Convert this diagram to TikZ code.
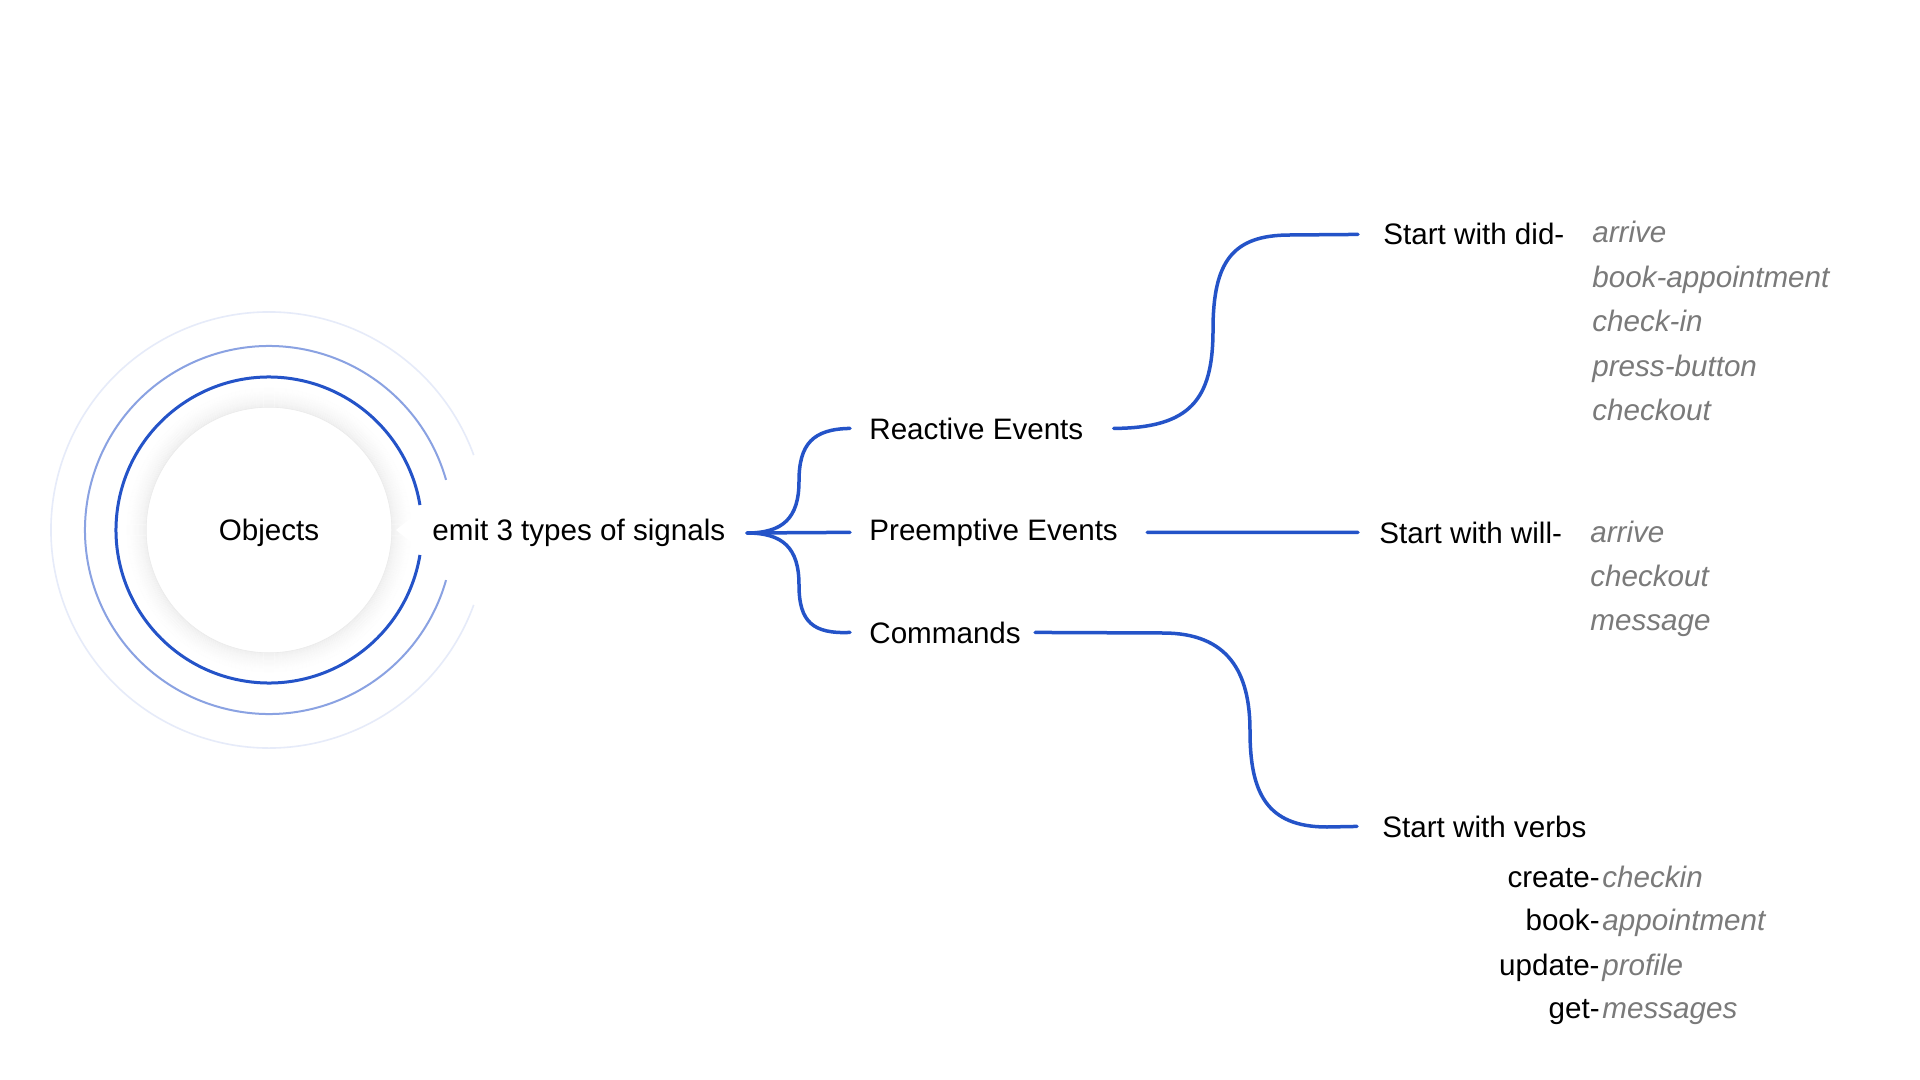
\documentclass[tikz,border=0pt]{standalone}
\usepackage{fontspec}
\setmainfont{Liberation Sans}
\definecolor{lineblue}{RGB}{36,83,200}
\definecolor{midblue}{RGB}{138,162,226}
\definecolor{faintblue}{RGB}{230,235,249}
\definecolor{itgray}{RGB}{122,122,122}
\begin{document}
\begin{tikzpicture}[x=0.5pt,y=-0.5pt,
  lbl/.style={font=\fontsize{14.8pt}{18pt}\selectfont, inner sep=0pt, anchor=base west, text=black},
  itl/.style={lbl, font=\fontsize{14.8pt}{18pt}\selectfont\itshape, text=itgray},
  conn/.style={draw=lineblue, line width=1.75pt, line cap=round},
]
\fill[white] (0,0) rectangle (1920,1080);
\useasboundingbox (0,0) rectangle (1920,1080);

% --- central object with soft shadow ---
\coordinate (c) at (269,530);
\foreach \i in {0,...,24} {
  \pgfmathsetmacro\op{0.045*(1-\i/25)*(1-\i/25)}
  \draw[black, opacity=\op, line width=0.6pt] (c) circle[radius=123+\i];
}
\fill[white] (c) circle[radius=122.5];
\draw[black!8, line width=0.3pt] (c) circle[radius=122.8];
\fill[white] (396,530) -- (428,504) -- (428,556) -- cycle;

\draw[faintblue, line width=0.8pt] (c) ++(20.1:218) arc[start angle=20.1, end angle=339.9, radius=218];
\draw[midblue, line width=1pt] (c) ++(15.8:184) arc[start angle=15.8, end angle=344.2, radius=184];
\draw[lineblue, line width=1.5pt] (c) ++(9.4:153) arc[start angle=9.4, end angle=350.6, radius=153];

\node[lbl, anchor=base] (obj) at (269,540) {Objects};
\node[lbl] (emit) at (432,540) {emit 3 types of signals};

% --- second level ---
\coordinate (root) at (747,533);
\node[lbl] (re) at (869,439) {Reactive Events};
\node[lbl] (pe) at (869,540) {Preemptive Events};
\node[lbl] (cmd) at (869,643) {Commands};

\draw[conn] (root) .. controls (783,533) and (799,518) .. (799,481)
  .. controls (799,444) and (813,429) .. ([xshift=-9.5pt]re.west);
\draw[conn] (root) -- ([xshift=-9.5pt]pe.west);
\draw[conn] (root) .. controls (783,533) and (799,548) .. (799,585)
  .. controls (799,622) and (813,634) .. ([xshift=-9.5pt]cmd.west);

% --- third level ---
\node[lbl] (did) at (1383,245) {Start with did-};
\node[lbl] (will) at (1379,543) {Start with will-};
\node[lbl] (verbs) at (1382,837) {Start with verbs};

\draw[conn] ([xshift=15pt]re.east) .. controls (1190,428) and (1213,400) .. (1213,330)
  .. controls (1213,262) and (1232,235) .. (1290,235) -- ([xshift=-12.5pt]did.west);
\draw[conn] ([xshift=14.5pt]pe.east) -- ([xshift=-10.5pt]will.west);
\draw[conn] ([xshift=7pt]cmd.east) -- (1163,633) .. controls (1228,633) and (1250,672) .. (1250,731)
  .. controls (1250,792) and (1266,827) .. (1327,827) -- ([xshift=-12.5pt]verbs.west);

% --- examples ---
\node[itl] (d1) at (1592,243) {arrive};
\node[itl] (d2) at (1592,287.5) {book-appointment};
\node[itl] (d3) at (1592,332) {check-in};
\node[itl] (d4) at (1592,376) {press-button};
\node[itl] (d5) at (1592,420) {checkout};

\node[itl] (w1) at (1590,542) {arrive};
\node[itl] (w2) at (1590,586) {checkout};
\node[itl] (w3) at (1590,630) {message};

\node[lbl, anchor=base east] (v1a) at (1600,887) {create-};
\node[itl] (v1b) at (1602,887) {checkin};
\node[lbl, anchor=base east] (v2a) at (1600,930) {book-};
\node[itl] (v2b) at (1602,930) {appointment};
\node[lbl, anchor=base east] (v3a) at (1600,975) {update-};
\node[itl] (v3b) at (1602,975) {profile};
\node[lbl, anchor=base east] (v4a) at (1600,1018) {get-};
\node[itl] (v4b) at (1602,1018) {messages};
\end{tikzpicture}
\end{document}
